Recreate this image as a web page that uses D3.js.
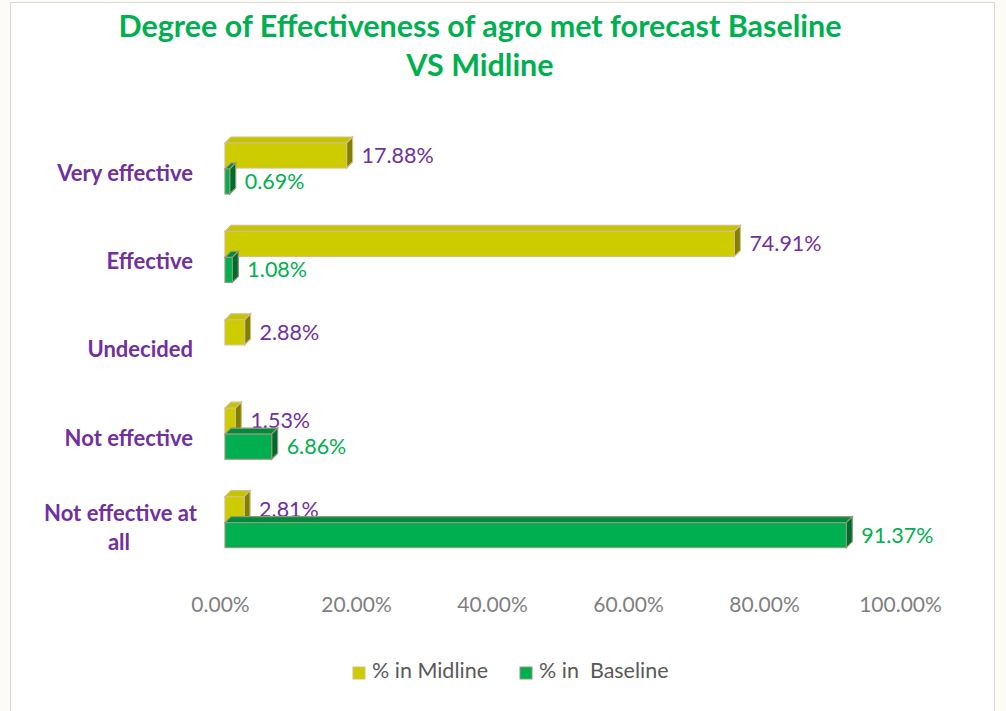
<!DOCTYPE html>
<html>
<head>
<meta charset="utf-8">
<script src="https://cdn.jsdelivr.net/npm/d3@7"></script>
<style>
  body { margin: 0; background: #fcfbf6; }
  svg { display: block; font-family: Lato, "Open Sans", sans-serif; }
</style>
</head>
<body>
<svg id="chart" width="1006" height="711"></svg>
<script>
// Data
const categories = ["Very effective", "Effective", "Undecided", "Not effective", "Not effective at all"];
const midline = [17.88, 74.91, 2.88, 1.53, 2.81];
const baseline = [0.69, 1.08, null, 6.86, 91.37];
const seriesNames = ["% in Midline", "% in  Baseline"];
const ticks = [0, 20, 40, 60, 80, 100];

const svg = d3.select("#chart");

// frame
svg.append("rect")
  .attr("x", 10.5).attr("y", 2.5)
  .attr("width", 984).attr("height", 720)
  .attr("fill", "#fff").attr("stroke", "#d9d9d9");

// Title
svg.append("text")
  .attr("x", 480).attr("y", 37)
  .attr("text-anchor", "middle")
  .attr("fill", "#00b050").attr("font-weight", "bold").attr("font-size", 30.5)
  .selectAll("tspan")
  .data(["Degree of Effectiveness of agro met forecast Baseline", "VS Midline"])
  .join("tspan")
  .attr("x", 480).attr("dy", (d, i) => i ? 39 : 0)
  .text(d => d);

// Scales
const x = d3.scaleLinear().domain([0, 100]).range([225, 905]);
const y = d3.scaleBand().domain(categories).range([123, 565]);
const inner = d3.scaleBand().domain(["mid", "base"]).range([0, 52]);
const groupTop = c => y(c) + 20;

const depthX = 6, depthY = -6;
const styles = {
  mid:  { front: "#cccc00", top: "#c4c400", side: "#7f7f00", stroke: "#d6bd80", label: "#7030a0" },
  base: { front: "#00b050", top: "#008a3e", side: "#006b2e", stroke: "#8e9a78", label: "#00b050" }
};

const rows = [];
categories.forEach((c, i) => {
  rows.push({ cat: c, key: "mid", v: midline[i] });
  if (baseline[i] != null) rows.push({ cat: c, key: "base", v: baseline[i] });
});

const bars = svg.append("g").selectAll("g").data(rows).join("g");

bars.each(function(d) {
  const g = d3.select(this);
  const s = styles[d.key];
  const x0 = x(0), x1 = x(d.v);
  const y0 = groupTop(d.cat) + inner(d.key), h = 25;
  g.append("polygon")
    .attr("points", [[x0, y0], [x0 + depthX, y0 + depthY], [x1 + depthX, y0 + depthY], [x1, y0]].join(" "))
    .attr("fill", s.top).attr("stroke", s.stroke).attr("stroke-width", 1.2);
  g.append("polygon")
    .attr("points", [[x1, y0], [x1 + depthX, y0 + depthY], [x1 + depthX, y0 + h + depthY], [x1, y0 + h]].join(" "))
    .attr("fill", s.side).attr("stroke", s.stroke).attr("stroke-width", 1.2);
  g.append("rect")
    .attr("x", x0).attr("y", y0)
    .attr("width", x1 - x0).attr("height", h)
    .attr("fill", s.front).attr("stroke", s.stroke).attr("stroke-width", 1.2);
  g.append("text")
    .attr("x", x1 + depthX + 9).attr("y", y0 + h / 2 + 2)
    .attr("dominant-baseline", "middle")
    .attr("fill", s.label).attr("font-size", 21.5)
    .text(d.v.toFixed(2) + "%");
});

// Category labels
const catLabels = svg.append("g");
categories.forEach(c => {
  const cy = groupTop(c) + 32;
  if (c === "Not effective at all") {
    catLabels.append("text").attr("x", 197).attr("y", cy - 13)
      .attr("text-anchor", "end").attr("dominant-baseline", "middle")
      .attr("fill", "#7030a0").attr("font-weight", "bold").attr("font-size", 22)
      .text("Not effective at");
    catLabels.append("text").attr("x", 119).attr("y", cy + 16)
      .attr("text-anchor", "middle").attr("dominant-baseline", "middle")
      .attr("fill", "#7030a0").attr("font-weight", "bold").attr("font-size", 22)
      .text("all");
  } else {
    catLabels.append("text").attr("x", 193).attr("y", cy)
      .attr("text-anchor", "end").attr("dominant-baseline", "middle")
      .attr("fill", "#7030a0").attr("font-weight", "bold").attr("font-size", 22)
      .text(c);
  }
});

// X axis
const xAxis = svg.append("g")
  .attr("transform", "translate(-5,591)")
  .call(d3.axisBottom(x).tickValues(ticks).tickFormat(d => d.toFixed(2) + "%").tickSize(0).tickPadding(6));
xAxis.select(".domain").remove();
xAxis.selectAll("text").attr("fill", "#7f7f7f").attr("font-size", 21).attr("font-family", "Lato, sans-serif");

// Legend
const legend = svg.append("g").attr("transform", "translate(353,673)");
const legendItems = [
  { name: seriesNames[0], fill: styles.mid.front, stroke: styles.mid.stroke, x: 0 },
  { name: seriesNames[1], fill: styles.base.front, stroke: styles.base.stroke, x: 167 }
];
legendItems.forEach(it => {
  legend.append("rect").attr("x", it.x).attr("y", -6).attr("width", 12).attr("height", 12)
    .attr("fill", it.fill).attr("stroke", it.stroke);
  legend.append("text").attr("x", it.x + 19).attr("y", 0)
    .attr("dominant-baseline", "middle")
    .attr("fill", "#595959").attr("font-size", 21.5)
    .attr("xml:space", "preserve")
    .style("white-space", "pre")
    .text(it.name);
});
</script>
</body>
</html>
